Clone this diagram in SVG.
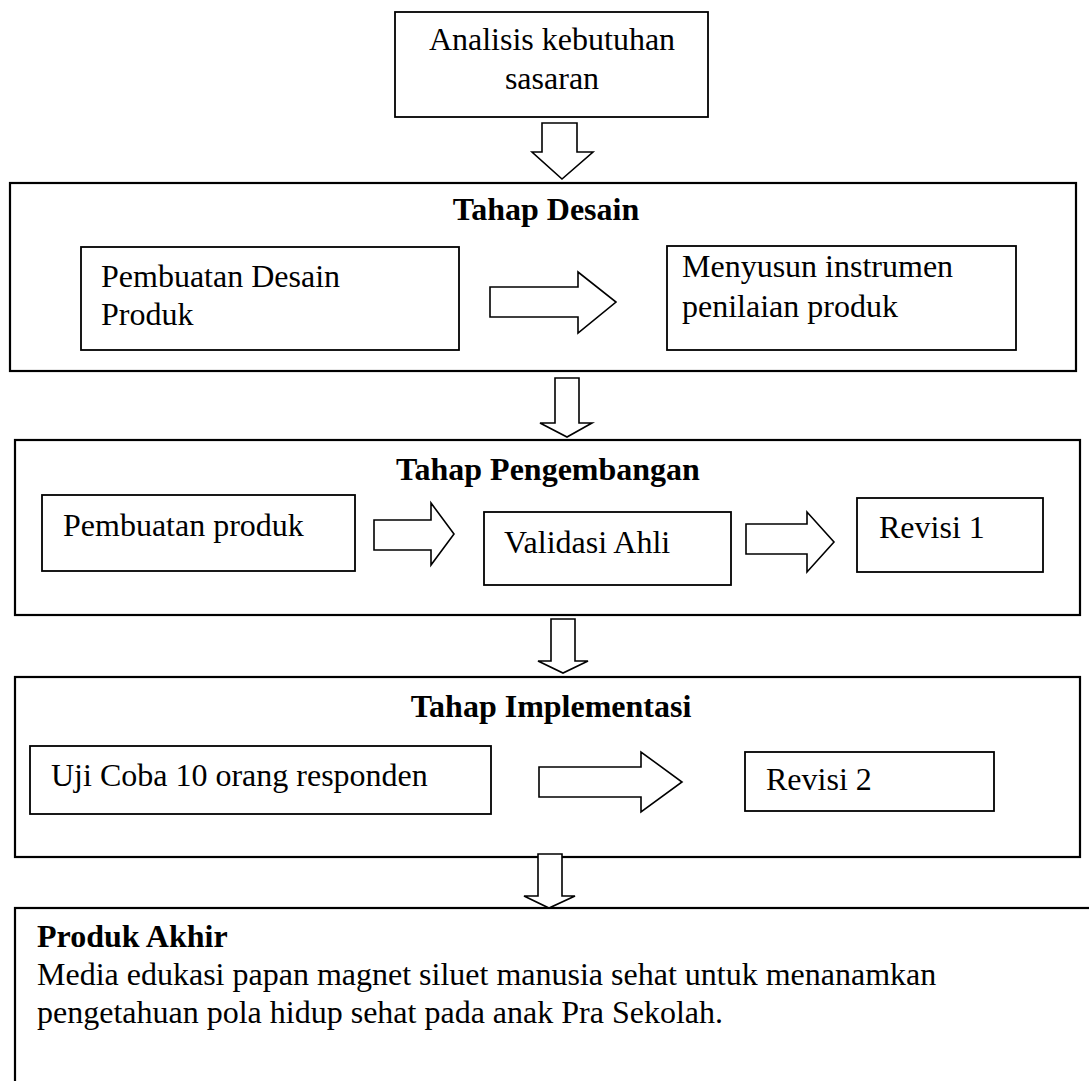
<svg xmlns="http://www.w3.org/2000/svg" width="1089" height="1081" viewBox="0 0 1089 1081">
<style>
text{font-family:"Liberation Serif","Times New Roman",serif;font-size:32px;fill:#000}
.b{font-weight:bold}
.c{text-anchor:middle}
.stage{fill:#fff;stroke:#000;stroke-width:2.2}
.box{fill:#fff;stroke:#000;stroke-width:1.8}
.arr{fill:#fff;stroke:#000;stroke-width:1.6;stroke-linejoin:miter}
</style>
<rect width="1089" height="1081" fill="#fff"/>
<g id="analisis">
<rect class="box" x="395" y="12" width="313" height="105"/>
<text class="c" x="552" y="50">Analisis kebutuhan</text>
<text class="c" x="552" y="89">sasaran</text>
</g>
<g id="tahap-desain">
<rect class="stage" x="10" y="183" width="1066" height="188"/>
<text class="b c" x="546" y="220">Tahap Desain</text>
</g>
<g id="pembuatan-desain">
<rect class="box" x="81" y="247" width="378" height="103"/>
<text x="101" y="287">Pembuatan Desain</text>
<text x="101" y="325">Produk</text>
</g>
<g id="menyusun">
<rect class="box" x="667" y="246" width="349" height="104"/>
<text x="682" y="277">Menyusun instrumen</text>
<text x="682" y="317">penilaian produk</text>
</g>
<g id="tahap-pengembangan">
<rect class="stage" x="15" y="440" width="1065" height="175"/>
<text class="b c" x="548" y="480">Tahap Pengembangan</text>
</g>
<g id="pembuatan-produk">
<rect class="box" x="42" y="495" width="313" height="76"/>
<text x="63" y="536">Pembuatan produk</text>
</g>
<g id="validasi">
<rect class="box" x="484" y="512" width="247" height="73"/>
<text x="504" y="553">Validasi Ahli</text>
</g>
<g id="revisi1">
<rect class="box" x="857" y="498" width="186" height="74"/>
<text x="879" y="538">Revisi 1</text>
</g>
<g id="tahap-implementasi">
<rect class="stage" x="15" y="677" width="1065" height="180"/>
<text class="b c" x="551" y="717">Tahap Implementasi</text>
</g>
<g id="uji-coba">
<rect class="box" x="30" y="746" width="461" height="68"/>
<text x="51" y="786">Uji Coba 10 orang responden</text>
</g>
<g id="revisi2">
<rect class="box" x="745" y="752" width="249" height="59"/>
<text x="766" y="790">Revisi 2</text>
</g>
<g id="produk-akhir">
<rect class="stage" x="15" y="908" width="1100" height="200"/>
<text class="b" x="37" y="947">Produk Akhir</text>
<text x="37" y="985">Media edukasi papan magnet siluet manusia sehat untuk menanamkan</text>
<text x="37" y="1023">pengetahuan pola hidup sehat pada anak Pra Sekolah.</text>
</g>
<g id="connectors">
<polygon class="arr" points="542,123 577,123 577,152 593,152 562,179 532,152 542,152"/>
<polygon class="arr" points="490,287 578,287 578,272 616,302 578,333 578,317 490,317"/>
<polygon class="arr" points="555,378 579,378 579,423 592,423 567,437 540,423 555,423"/>
<polygon class="arr" points="374,520 431,520 431,503 454,534 431,565 431,550 374,550"/>
<polygon class="arr" points="746,524 807,524 807,512 834,542 807,572 807,554 746,554"/>
<polygon class="arr" points="551,619 575,619 575,661 588,661 563,673 538,661 551,661"/>
<polygon class="arr" points="539,767 641,767 641,752 682,782 641,812 641,797 539,797"/>
<polygon class="arr" points="538,854 562,854 562,896 575,896 549,908 524,896 538,896"/>
</g>
</svg>
